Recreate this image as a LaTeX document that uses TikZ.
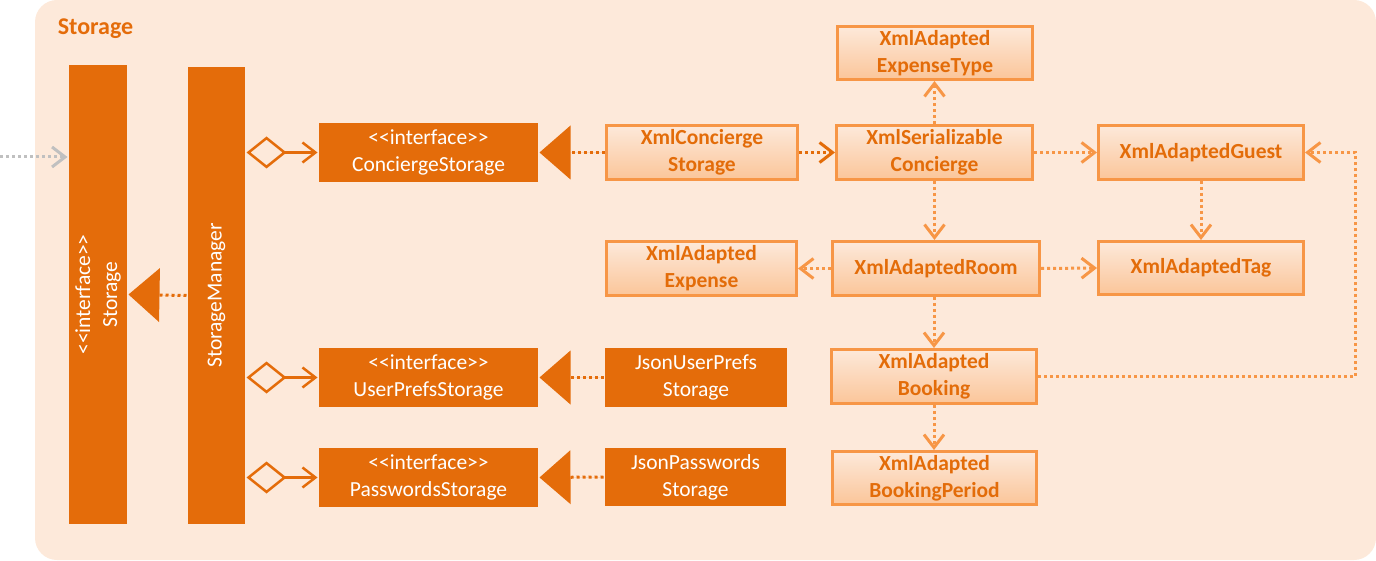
\documentclass[tikz,border=0pt]{standalone}
\usepackage{fontspec}
\setmainfont{Carlito}[Ligatures=TeXOff]
\usetikzlibrary{arrows.meta}

\definecolor{darkorange}{HTML}{E46C0A}
\definecolor{lightorange}{HTML}{F79646}
\definecolor{textorange}{HTML}{E36C09}
\definecolor{peach}{HTML}{FDE9DA}
\definecolor{greyline}{HTML}{C0C0C0}

\begin{document}
\begin{tikzpicture}[
            x = 1pt, y = -1pt, % one unit per pixel, y runs downwards
            > = {Straight Barb[length=13pt,width=20pt]}, % open arrow head
            font = \fontsize{21.5}{27}\selectfont,
            line width = 3pt % line style
        ]

        \tikzstyle{iface}=[
            fill = darkorange,
            text = white,
            align = center,
            inner sep = 0pt,
            minimum width = 219,
            minimum height = 59
        ]
        \tikzstyle{bar}=[
            iface,
            rotate = 90
        ]
        \tikzstyle{xml}=[
            draw = lightorange,
            top color = peach,
            bottom color = lightorange!55!white,
            text = textorange,
            font = \fontsize{21.5}{27}\selectfont\bfseries,
            align = center,
            inner sep = 0pt,
            minimum height = 54
        ]
        \tikzstyle{dep}=[
            ->,
            draw = lightorange,
            dash pattern = on 3pt off 3pt
        ]
        \tikzstyle{real}=[
            -{Triangle[length=31pt,width=54pt,line width=0pt]},
            draw = darkorange,
            fill = darkorange,
            dash pattern = on 3pt off 3pt
        ]
        \tikzstyle{agg}=[
            {Diamond[open,length=40pt,width=32pt]}->,
            draw = darkorange,
            line width = 2.5pt
        ]

        % package frame
        \useasboundingbox (0,0) rectangle (1376,561);
        \fill[peach, rounded corners=22pt] (35,0) rectangle (1376,560);
        \node[anchor=west, text=darkorange, font=\fontsize{24}{28}\selectfont\bfseries] (title) at (53,29) {Storage};

        % left column
        \node[bar, minimum width=459, minimum height=58] (storage) at (98,294.5)
            {<<interface>>\\Storage};
        \node[bar, minimum width=457, minimum height=57] (manager) at (216.5,295.5) {StorageManager};

        % interfaces
        \node[iface] (cstore) at (428.5,152.5) {<<interface>>\\ConciergeStorage};
        \node[iface] (upstore) at (428.5,377.5) {<<interface>>\\UserPrefsStorage};
        \node[iface] (pstore) at (428.5,477.5) {<<interface>>\\PasswordsStorage};

        % json classes
        \node[iface, minimum width=182] (jsonup) at (696,377.5) {JsonUserPrefs\\Storage};
        \node[iface, minimum width=181, minimum height=58] (jsonpw) at (695.5,477) {JsonPasswords\\Storage};

        % xml classes
        \node[xml, minimum width=191] (xmlcs) at (702,152.5) {XmlConcierge\\Storage};
        \node[xml, minimum width=196] (xmlser) at (934.5,152.5) {XmlSerializable\\Concierge};
        \node[xml, minimum width=195, minimum height=53] (exptype) at (935,53) {XmlAdapted\\ExpenseType};
        \node[xml, minimum width=205] (guest) at (1201,152.5) {XmlAdaptedGuest};
        \node[xml, minimum width=205, minimum height=53] (tag) at (1201,268) {XmlAdaptedTag};
        \node[xml, minimum width=207] (room) at (936,268.5) {XmlAdaptedRoom};
        \node[xml, minimum width=190] (expense) at (701.5,268.5) {XmlAdapted\\Expense};
        \node[xml, minimum width=205] (booking) at (934,376.5) {XmlAdapted\\Booking};
        \node[xml, minimum width=204, minimum height=53] (period) at (934.5,478) {XmlAdapted\\BookingPeriod};

        % incoming dependency
        \coordinate (ext) at (0,157);
        \draw[->, greyline, dash pattern=on 3pt off 3pt] (ext) -- (ext -| storage.north);

        % realizations
        \draw[real] (manager.north) -- (storage.south);
        \draw[real] (xmlcs.west) -- (cstore.east);
        \draw[real] (jsonup.west) -- (upstore.east);
        \draw[real] (jsonpw.west) -- (pstore.east);

        % aggregations
        \draw[agg] (manager.south |- cstore.west) -- (cstore.west);
        \draw[agg] (manager.south |- upstore.west) -- (upstore.west);
        \draw[agg] (manager.south |- pstore.west) -- (pstore.west);

        % dependencies
        \draw[dep, draw=textorange] (xmlcs.east) -- (xmlser.west);
        \draw[dep] (xmlser.north) -- (xmlser.north |- exptype.south);
        \draw[dep] (xmlser.east) -- (guest.west);
        \draw[dep] (xmlser.south) -- (xmlser.south |- room.north);
        \draw[dep] (guest.south) -- (tag.north);
        \draw[dep] (room.west) -- (expense.east);
        \draw[dep] (room.east) -- (tag.west);
        \draw[dep] (booking.north |- room.south) -- (booking.north);
        \draw[dep] (booking.south) -- (booking.south |- period.north);
        \draw[dep] (booking.east) -- ++(317,0) |- (guest.east);

  \end{tikzpicture}
\end{document}
